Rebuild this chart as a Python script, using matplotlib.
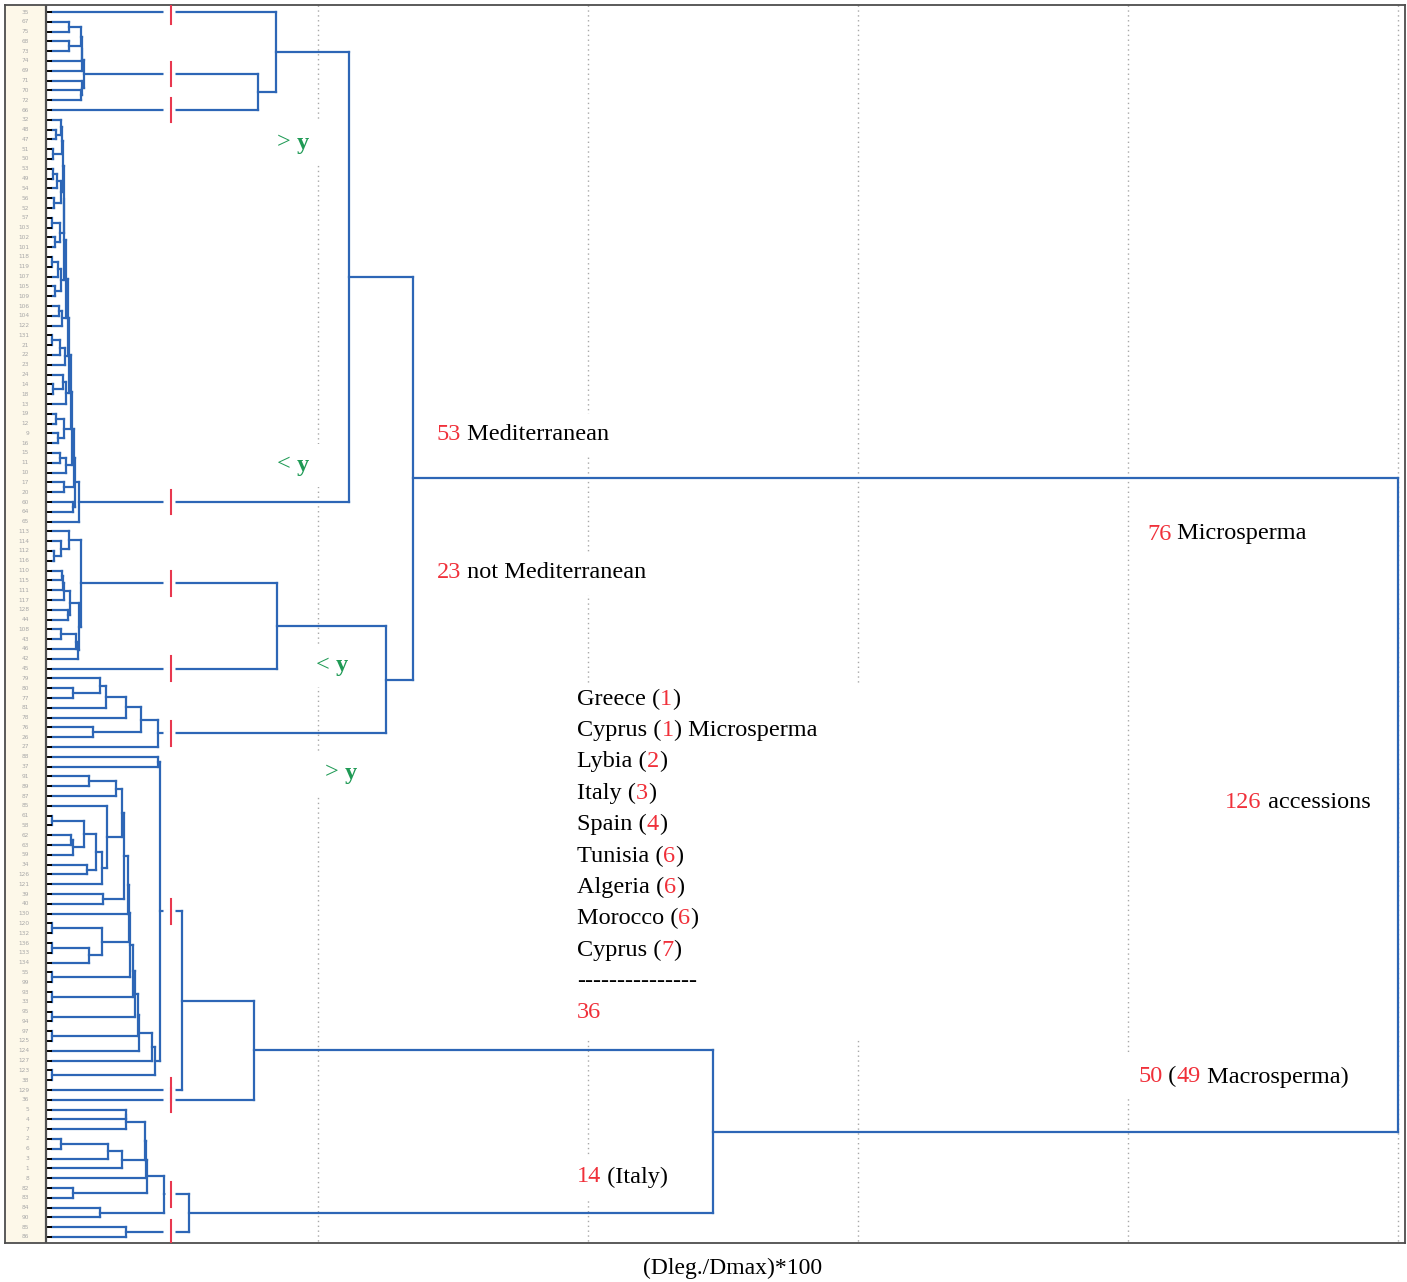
import matplotlib
matplotlib.use("Agg")
import matplotlib.pyplot as plt
from matplotlib.collections import LineCollection
from matplotlib.patches import Rectangle
from matplotlib.transforms import Bbox

SERIF = ["Liberation Serif", "DejaVu Serif"]
BLUE = "#2d66b6"
RED = "#f0303a"
GREEN = "#1f9a55"

# accession numbers, top to bottom
leaf_labels = [
    "35", "67", "75", "68", "73", "74", "69", "71", "70", "72", "66",
    "32", "48", "47", "51", "50", "53", "49", "54", "56", "52", "57",
    "103", "102", "101", "118", "119", "107", "105", "109", "106", "104", "122", "131",
    "21", "22", "23", "24", "14", "18", "13", "19", "12", "9", "16", "15", "11", "10", "17", "20",
    "60", "64", "65",
    "113", "114", "112", "116", "110", "115", "111", "117", "128", "44", "108", "43", "46", "42", "45",
    "79", "80", "77", "81", "78", "76", "26", "27",
    "88", "37", "91", "89", "87", "85", "61", "58", "62", "63", "59", "34", "126", "121",
    "39", "40", "130", "120", "132", "136", "133", "134", "55", "99",
    "93", "33", "95", "94", "97", "125", "124", "127", "123", "38", "129", "36",
    "5", "4", "7", "2", "6", "3", "1", "8", "82", "83", "84", "90", "85", "86",
]

# merges written as (left, right, height); ints are leaf rows
# heights in (Dleg./Dmax)*100 units
top_core = (((((1, 2, 1.55), (3, 4, 1.55), 2.44), 5, 2.5), 6, 2.55),
            (7, (8, 9, 2.44), 2.5), 2.66)
top_group = (0, (top_core, 10, 15.53), 16.86)

med_parts = [
    ((11, (12, 13, 0.6), 0.96), (14, 15, 0.35), 1.05),
    (((16, 17, 0.4), 18, 0.7), (19, 20, 0.45), 1.0),
    ((21, 22, 0.3), (23, 24, 0.55), 0.9),
    (((25, 26, 0.0), 27, 0.75), (28, 29, 0.5), 1.0),
    ((30, 31, 0.8), 32, 1.05),
    (((33, 34, 0.3), 35, 0.9), 36, 1.25),
    ((37, (38, 39, 0.4), 1.1), 40, 1.3),
    ((41, 42, 0.6), (43, 44, 0.75), 1.2),
    ((45, 46, 0.9), 47, 1.35),
    (48, 49, 1.2),
    (50, 51, 1.85),
    52,
]
med_heights = [1.1, 1.15, 1.2, 1.3, 1.45, 1.55, 1.7, 1.8, 1.9, 2.0, 2.29]

nm_core = ((53, (54, (55, 56, 0.45), 0.95), 1.55),
           ((((((57, 58, 1.05), 59, 1.1), 60, 1.2), (61, 62, 1.45), 1.6)),
            (((63, 64, 0.95), 65, 2.1), 66, 2.2), 2.3), 2.44)
nm_low = (((((68, (69, 70, 1.83), 3.87), 71, 4.29), 72, 5.77), (73, 74, 3.3), 6.88), 75, 8.18)
notmed_group = ((nm_core, 67, 16.93), nm_low, 25.06)

ma_top = ((((78, 79, 3.0), 80, 5.0),
           (81, ((((82, 83, 0.0), ((84, 85, 1.7), 86, 1.87), 2.69), (87, 88, 2.86), 3.55), 89, 4.0), 4.34),
           5.5), (90, 91, 4.04), 5.6)
ma_mid = ((93, 94, 0.0), ((95, 96, 0.0), 97, 3.0), 4.0)
ma_parts = [ma_top, 92, ma_mid, (98, 99, 0.0), (100, 101, 0.0), (102, 103, 0.0),
            (104, 105, 0.0), 106, 107, (108, 109, 0.0)]
ma_heights = [5.95, 6.0, 6.05, 6.3, 6.45, 6.7, 6.75, 7.74, 7.93]

italy_core = (((((112, 113, 5.75), 114, 5.8), (((115, 116, 0.96), 117, 4.44), 118, 5.47), 7.17),
               119, 7.25), (120, 121, 1.85), 7.32)
italy_group = ((italy_core, (122, 123, 3.84), 8.58), (124, 125, 5.77), 10.43)

countries = ["Greece", "Cyprus", "Lybia", "Italy", "Spain", "Tunisia", "Algeria", "Morocco", "Cyprus"]
country_counts = [1, 1, 2, 3, 4, 6, 6, 6, 7]
macrosperma_count = 49

H_MED, H_MICRO, H_MACRO_A, H_MACRO_B, H_MACRO, H_ROOT = 22.33, 27.06, 9.9, 15.23, 49.24, 100.0
CUT = 9.1
LEAF_BASE = 0.3


def chain(parts, heights):
    node = parts[0]
    for p, h in zip(parts[1:], heights):
        node = (node, p, h)
    return node


def n_leaves(node):
    if isinstance(node, int):
        return 1
    return n_leaves(node[0]) + n_leaves(node[1])


med_group = chain(med_parts, med_heights)
macro_main = chain([(76, 77, 8.15), chain(ma_parts, ma_heights)], [8.3])
macro_group = (((macro_main, 110, H_MACRO_A), 111, H_MACRO_B), italy_group, H_MACRO)
mediterranean = (top_group, med_group, H_MED)
micro_group = (mediterranean, notmed_group, H_MICRO)
root = (micro_group, macro_group, H_ROOT)


# pixel -> data helper (layout only)
def px(x, y):
    return (x - 48) / 13.5, (y - 12) / 9.8


fig = plt.figure(figsize=(14.07, 12.82), dpi=100)
ax = fig.add_axes([5 / 1407, 39 / 1282, 1400 / 1407, 1238 / 1282])
x0, _ = px(5, 0)
x1, _ = px(1405, 0)
_, y0 = px(0, 5)
_, y1 = px(0, 1243)
ax.set_xlim(x0, x1)
ax.set_ylim(y1, y0)
ax.set_xticks([])
ax.set_yticks([])
for s in ax.spines.values():
    s.set_color("#4d4d4d")
    s.set_linewidth(1.3)

# label strip
ax.add_patch(Rectangle((x0, y1), -0.15 - x0, y0 - y1, fc="#fdf8e9", ec="none", zorder=0))
ax.plot([-0.15, -0.15], [y0, y1], color="#505050", lw=1.6, zorder=5)
n = len(leaf_labels)
ax.add_collection(LineCollection([[(-0.15, i), (LEAF_BASE, i)] for i in range(n)],
                                 colors="black", linewidths=1.4, zorder=4))
for i, lab in enumerate(leaf_labels):
    ax.text(-1.4, i, lab, ha="right", va="center", fontsize=4.2, color="#a8a8a8")

# grid
for g in [20, 40, 60, 80, 100]:
    ax.plot([g, g], [y0, y1], color="#a8a8a8", lw=1.0, ls=(0, (1, 2.5)), zorder=1)

segs = []
marks = []


def draw(node, parent_h=None):
    if isinstance(node, int):
        y, h = node, LEAF_BASE
    else:
        left, right, hh = node
        h = max(hh, LEAF_BASE)
        yl, _ = draw(left, h)
        yr, _ = draw(right, h)
        segs.append([(h, yl), (h, yr)])
        y = (yl + yr) / 2
    if parent_h is not None:
        segs.append([(h, y), (parent_h, y)])
        if h < CUT < parent_h:
            marks.append((y, h))
    return y, h


draw(root)
ax.add_collection(LineCollection(segs, colors=BLUE, linewidths=1.6, capstyle="projecting", zorder=3))

for y, h in marks:
    ax.plot([max(h + 0.1, CUT - 0.6), CUT + 0.3], [y, y], color="white", lw=3.5, zorder=3.5,
            solid_capstyle="butt")
    ax.plot([CUT, CUT], [y - 1.25, y + 1.25], color="#e8384f", lw=1.5, zorder=4)

boxed = []


def rich_text(x, y, pieces, size=17.5, box=True):
    t = None
    arts = []
    for s, c, w in pieces:
        if t is None:
            t = ax.text(x, y, s, color=c, fontsize=size, family=SERIF, weight=w,
                        va="center", ha="left", zorder=6)
        else:
            t = ax.annotate(s, xy=(1, 0), xycoords=t, va="bottom", ha="left", color=c,
                            fontsize=size, family=SERIF, weight=w, zorder=6)
        arts.append(t)
    if box:
        boxed.append(arts)


K, N, B = "black", "normal", "bold"

for sign, (gx, gy) in zip([">", "<", "<", ">"], [(277, 143), (277, 465), (316, 666), (325, 773)]):
    rich_text(*px(gx, gy), [(sign + " ", GREEN, N), ("y", GREEN, B)])

rich_text(*px(437, 435), [(str(n_leaves(mediterranean)), RED, N), (" Mediterranean", K, N)])
rich_text(*px(437, 573), [(str(n_leaves(notmed_group)), RED, N), (" not Mediterranean", K, N)])
rich_text(*px(1147, 534), [(str(n_leaves(micro_group)), RED, N), (" Microsperma", K, N)])
rich_text(*px(1225, 802), [(str(n_leaves(root)), RED, N), (" accessions", K, N)])
rich_text(*px(1138, 1077), [(str(n_leaves(macro_group)), RED, N), (" (", K, N),
                            (str(macrosperma_count), RED, N), (" Macrosperma)", K, N)])
rich_text(*px(577, 1177), [(str(n_leaves(italy_group)), RED, N), (" (Italy)", K, N)])

# country list
lx, ly = px(570, 683)
rx, ry = px(870, 1040)
ax.add_patch(Rectangle((lx, ly), rx - lx, ry - ly, fc="white", ec="none", zorder=2))
for k, (cname, cnt) in enumerate(zip(countries, country_counts)):
    pieces = [(cname + " (", K, N), (str(cnt), RED, N), (")", K, N)]
    if k == 1:
        pieces.append((" Microsperma", K, N))
    rich_text(*px(577, 699 + 31.4 * k), pieces, box=False)
rich_text(*px(577, 982), [("-" * 15, K, N)], box=False)
rich_text(*px(577, 1012), [(str(sum(country_counts)), RED, N)], box=False)

fig.text(733 / 1407, 1 - 1268 / 1282, "(Dleg./Dmax)*100", ha="center", va="center",
         fontsize=17, family=SERIF)

# white boxes behind labels so the dotted grid breaks around them
fig.canvas.draw()
rend = fig.canvas.get_renderer()
inv = ax.transData.inverted()
for arts in boxed:
    bb = Bbox.union([a.get_window_extent(rend) for a in arts]).expanded(1.0, 1.0)
    (bx0, by0), (bx1, by1) = inv.transform([[bb.x0 - 11, bb.y0 - 11], [bb.x1 + 11, bb.y1 + 11]])
    ax.add_patch(Rectangle((bx0, by0), bx1 - bx0, by1 - by0, fc="white", ec="none", zorder=2))

fig.savefig("out.png", dpi=100)
